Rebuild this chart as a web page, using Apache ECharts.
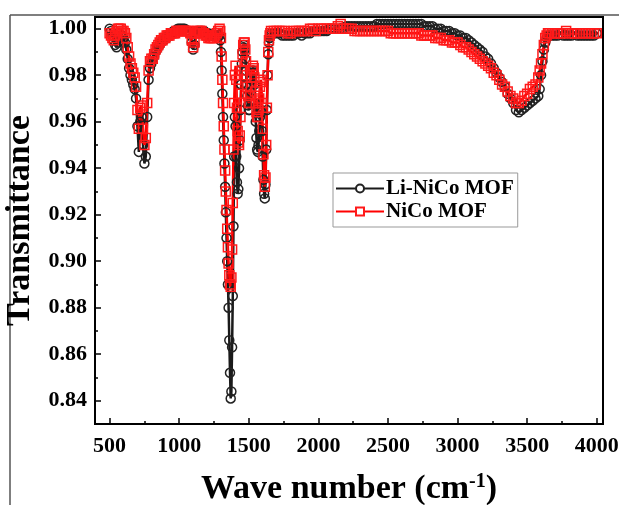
<!DOCTYPE html>
<html>
<head>
<meta charset="utf-8">
<title>FTIR Li-NiCo MOF / NiCo MOF</title>
<script src="https://cdn.jsdelivr.net/npm/echarts@6.0.0/dist/echarts.min.js"></script>
<style>
    html, body { margin: 0; padding: 0; background: #fff; }
    #chart { width: 619px; height: 505px; }
</style>
</head>
<body>
<div id="chart"></div>
<script>
/* 波数 (cm-1) */
var waveNumber = [
    500, 510, 520, 530, 540, 550, 560, 570, 580, 590,
    600, 610, 620, 630, 640, 650, 660, 670, 680, 690,
    700, 710, 720, 730, 740, 750, 760, 770, 780, 790,
    800, 810, 820, 830, 840, 850, 860, 870, 880, 890,
    900, 910, 920, 930, 940, 950, 960, 970, 980, 990,
    1000, 1010, 1020, 1030, 1040, 1050, 1060, 1070, 1080, 1090,
    1100, 1110, 1120, 1130, 1140, 1150, 1160, 1170, 1180, 1190,
    1200, 1210, 1220, 1230, 1240, 1250, 1260, 1270, 1280,
    1290, 1295, 1300, 1305, 1310, 1315, 1320, 1325, 1330, 1335,
    1340, 1345, 1350, 1355, 1360, 1365, 1370, 1375, 1380, 1385,
    1390, 1395, 1400, 1405, 1410, 1415, 1420, 1425, 1430, 1435,
    1440, 1445, 1450, 1455, 1460, 1465, 1470, 1475, 1480, 1485,
    1490, 1495, 1500, 1505, 1510, 1515, 1520, 1525, 1530, 1535,
    1540, 1545, 1550, 1555, 1560, 1565, 1570, 1575, 1580, 1585,
    1590, 1595, 1600, 1605, 1610, 1615, 1620, 1625, 1630, 1635,
    1640, 1645, 1650, 1655, 1660,
    1680, 1700, 1720, 1740, 1760, 1780, 1800, 1820, 1840, 1860,
    1880, 1900, 1920, 1940, 1960, 1980, 2000, 2020, 2040, 2060,
    2080, 2100, 2120, 2140, 2160, 2180, 2200, 2220, 2240, 2260,
    2280, 2300, 2320, 2340, 2360, 2380, 2400, 2420, 2440, 2460,
    2480, 2500, 2520, 2540, 2560, 2580, 2600, 2620, 2640, 2660,
    2680, 2700, 2720, 2740, 2760, 2780, 2800, 2820, 2840, 2860,
    2880, 2900, 2920, 2940, 2960, 2980, 3000, 3020, 3040, 3060,
    3080, 3100, 3120, 3140, 3160, 3180, 3200, 3220, 3240, 3260,
    3280, 3300, 3320, 3340, 3360, 3380, 3400, 3420, 3440, 3460,
    3480, 3500, 3520, 3540, 3560, 3580,
    3590, 3600, 3610, 3620, 3630, 3640, 3650, 3660,
    3680, 3700, 3720, 3740, 3760, 3780, 3800, 3820, 3840, 3860,
    3880, 3900, 3920, 3940, 3960, 3980, 4000
];

/* Li-NiCo MOF 透过率 */
var liNiCo = [
    1.000, 0.999, 0.997, 0.995, 0.993, 0.992, 0.994, 0.996, 0.997, 0.997,
    0.996, 0.994, 0.991, 0.987, 0.983, 0.980, 0.978, 0.976, 0.974, 0.970,
    0.958, 0.947, 0.960, 0.962, 0.950, 0.942, 0.945, 0.962, 0.978, 0.983,
    0.985, 0.987, 0.988, 0.990, 0.991, 0.992, 0.993, 0.994, 0.995, 0.995,
    0.996, 0.996, 0.997, 0.997, 0.998, 0.998, 0.999, 0.999, 0.999, 1.000,
    1.000, 1.000, 1.000, 1.000, 1.000, 0.999, 0.999, 0.999, 0.998, 0.994,
    0.991, 0.993, 0.998, 0.999, 0.999, 0.999, 0.999, 0.999, 0.999, 0.998,
    0.998, 0.998, 0.997, 0.997, 0.997, 0.997, 0.997, 0.997, 0.997,
    0.997, 0.995, 0.990, 0.982, 0.972, 0.962, 0.952, 0.942, 0.932, 0.921,
    0.910, 0.900, 0.890, 0.880, 0.866, 0.852, 0.841, 0.844, 0.863, 0.885,
    0.915, 0.945, 0.962, 0.958, 0.945, 0.934, 0.929, 0.931, 0.940, 0.952,
    0.965, 0.976, 0.985, 0.990, 0.992, 0.993, 0.991, 0.987, 0.982, 0.976,
    0.971, 0.967, 0.965, 0.965, 0.968, 0.973, 0.978, 0.981, 0.982, 0.981,
    0.976, 0.968, 0.960, 0.953, 0.948, 0.947, 0.950, 0.956, 0.962, 0.965,
    0.964, 0.956, 0.945, 0.935, 0.929, 0.927, 0.933, 0.948, 0.965, 0.980,
    0.989, 0.994, 0.996, 0.997, 0.998,
    0.998, 0.998, 0.998, 0.997, 0.997, 0.997, 0.997, 0.997, 0.998, 0.998,
    0.997, 0.998, 0.998, 0.998, 0.999, 0.999, 0.999, 0.999, 0.999, 0.999,
    1.000, 1.000, 1.000, 1.000, 1.000, 1.000, 1.001, 1.001, 1.001, 1.001,
    1.001, 1.001, 1.001, 1.001, 1.001, 1.001, 1.001, 1.002, 1.002, 1.002,
    1.002, 1.002, 1.002, 1.002, 1.002, 1.002, 1.002, 1.002, 1.002, 1.002,
    1.002, 1.002, 1.002, 1.002, 1.001, 1.001, 1.001, 1.001, 1.000, 1.000,
    1.000, 0.999, 0.999, 0.999, 0.998, 0.998, 0.997, 0.997, 0.996, 0.996,
    0.995, 0.994, 0.993, 0.992, 0.991, 0.990, 0.988, 0.987, 0.985, 0.983,
    0.981, 0.979, 0.977, 0.975, 0.972, 0.970, 0.968, 0.965, 0.964, 0.965,
    0.966, 0.967, 0.968, 0.969, 0.970, 0.971,
    0.974, 0.980, 0.986, 0.991, 0.994, 0.996, 0.997, 0.997,
    0.997, 0.997, 0.997, 0.998, 0.997, 0.997, 0.997, 0.997, 0.998, 0.997,
    0.997, 0.997, 0.997, 0.997, 0.997, 0.997, 0.998
];

/* NiCo MOF 透过率 */
var niCo = [
    0.998, 0.997, 0.996, 0.995, 0.997, 0.999, 1.000, 1.000, 1.000, 0.999,
    0.999, 0.998, 0.996, 0.992, 0.988, 0.985, 0.983, 0.981, 0.979, 0.975,
    0.965, 0.957, 0.966, 0.967, 0.957, 0.950, 0.953, 0.968, 0.982, 0.986,
    0.987, 0.987, 0.989, 0.991, 0.992, 0.993, 0.994, 0.995, 0.995, 0.996,
    0.996, 0.997, 0.997, 0.997, 0.998, 0.998, 0.998, 0.998, 0.999, 0.999,
    0.999, 0.999, 0.999, 0.999, 0.999, 0.999, 0.999, 0.999, 0.998, 0.995,
    0.992, 0.994, 0.998, 0.999, 0.999, 0.999, 0.999, 0.998, 0.998, 0.997,
    0.997, 0.996, 0.996, 0.996, 0.996, 0.996, 0.997, 0.998, 0.999,
    1.000, 0.999, 0.996, 0.988, 0.978, 0.968, 0.958, 0.948, 0.939, 0.930,
    0.922, 0.914, 0.906, 0.899, 0.894, 0.890, 0.889, 0.893, 0.905, 0.925,
    0.948, 0.968, 0.980, 0.984, 0.978, 0.966, 0.956, 0.951, 0.950, 0.954,
    0.962, 0.972, 0.982, 0.989, 0.993, 0.994, 0.994, 0.991, 0.986, 0.980,
    0.975, 0.971, 0.968, 0.968, 0.971, 0.975, 0.979, 0.982, 0.984, 0.983,
    0.979, 0.973, 0.968, 0.964, 0.962, 0.962, 0.965, 0.970, 0.975, 0.978,
    0.977, 0.968, 0.957, 0.946, 0.937, 0.932, 0.936, 0.950, 0.966, 0.980,
    0.990, 0.995, 0.997, 0.998, 0.999,
    0.999, 0.999, 0.999, 0.999, 0.999, 0.998, 0.998, 0.999, 0.999, 0.999,
    0.999, 0.999, 0.999, 1.000, 1.000, 0.999, 1.000, 1.000, 1.000, 1.000,
    1.000, 1.000, 1.000, 1.001, 1.002, 1.000, 1.000, 1.000, 1.000, 0.999,
    0.999, 0.999, 0.999, 0.999, 0.999, 0.999, 0.999, 0.999, 0.999, 0.999,
    0.999, 0.999, 0.998, 0.998, 0.998, 0.998, 0.998, 0.998, 0.998, 0.998,
    0.998, 0.998, 0.998, 0.997, 0.997, 0.997, 0.997, 0.997, 0.996, 0.996,
    0.996, 0.995, 0.995, 0.995, 0.994, 0.994, 0.994, 0.993, 0.992, 0.992,
    0.991, 0.990, 0.989, 0.988, 0.987, 0.986, 0.985, 0.984, 0.983, 0.981,
    0.980, 0.978, 0.976, 0.975, 0.973, 0.971, 0.970, 0.968, 0.968, 0.969,
    0.971, 0.972, 0.974, 0.975, 0.976, 0.979,
    0.982, 0.985, 0.989, 0.993, 0.996, 0.997, 0.998, 0.998,
    0.998, 0.998, 0.998, 0.998, 0.998, 0.999, 0.998, 0.998, 0.998, 0.998,
    0.998, 0.998, 0.998, 0.998, 0.998, 0.998, 0.998
];

/* 刻度 */
var xTicks = [500, 1000, 1500, 2000, 2500, 3000, 3500, 4000];
var xMinorTicks = [750, 1250, 1750, 2250, 2750, 3250, 3750];
var yTicks = [0.84, 0.86, 0.88, 0.90, 0.92, 0.94, 0.96, 0.98, 1.00];
var yMinorTicks = [0.85, 0.87, 0.89, 0.91, 0.93, 0.95, 0.97, 0.99];

var serif = "'Liberation Serif', 'Times New Roman', serif";

function pairs(ys) {
    return waveNumber.map(function (w, i) { return [w, ys[i]]; });
}

var chart = echarts.init(document.getElementById('chart'), null, { renderer: 'canvas' });

var option = {
    animation: false,
    backgroundColor: '#fff',
    grid: {
        left: 95, right: 16, top: 17, bottom: 81,
        outerBoundsMode: 'none',
        show: true,
        borderColor: '#000',
        borderWidth: 2,
        backgroundColor: 'transparent'
    },
    legend: {
        orient: 'vertical',
        left: 333,
        top: 173,
        backgroundColor: '#fff',
        borderColor: '#999',
        borderWidth: 1,
        borderRadius: 0,
        padding: [5, 4, 5, 2],
        itemGap: 2,
        itemWidth: 48,
        itemHeight: 10,
        textStyle: {
            fontFamily: serif,
            fontWeight: 'bold',
            fontSize: 21,
            color: '#000',
            padding: [0, 0, 0, -3]
        },
        data: [
            { name: 'Li-NiCo MOF', itemStyle: { color: '#fff' } },
            { name: 'NiCo MOF', itemStyle: { color: '#fff' } }
        ]
    },
    xAxis: [{
        type: 'value',
        min: 395,
        max: 4045,
        name: 'Wave number (cm{sup|-1})',
        nameLocation: 'middle',
        nameGap: 48,
        nameTextStyle: {
            fontFamily: serif,
            fontWeight: 'bold',
            fontSize: 34,
            color: '#000',
            rich: {
                sup: {
                    fontFamily: serif,
                    fontWeight: 'bold',
                    fontSize: 20,
                    color: '#000',
                    verticalAlign: 'top'
                }
            }
        },
        axisLine: { lineStyle: { color: '#000', width: 2 } },
        axisTick: {
            inside: true,
            length: 6,
            customValues: xTicks,
            lineStyle: { color: '#000', width: 1.5 }
        },
        axisLabel: {
            customValues: xTicks,
            margin: 11,
            fontFamily: serif,
            fontWeight: 'bold',
            fontSize: 22,
            color: '#000',
            formatter: function (v) { return String(v); }
        },
        splitLine: { show: false }
    }, {
        type: 'value',
        min: 395,
        max: 4045,
        position: 'bottom',
        axisLine: { show: false },
        axisLabel: { show: false },
        axisTick: {
            inside: true,
            length: 3,
            customValues: xMinorTicks,
            lineStyle: { color: '#000', width: 1.5 }
        },
        splitLine: { show: false }
    }],
    yAxis: [{
        type: 'value',
        min: 0.83,
        max: 1.005,
        name: 'Transmittance',
        nameLocation: 'middle',
        nameGap: 49,
        nameTextStyle: {
            fontFamily: serif,
            fontWeight: 'bold',
            fontSize: 34,
            color: '#000'
        },
        axisLine: { lineStyle: { color: '#000', width: 2 } },
        axisTick: {
            inside: true,
            length: 6,
            customValues: yTicks,
            lineStyle: { color: '#000', width: 1.5 }
        },
        axisLabel: {
            customValues: yTicks,
            margin: 8,
            fontFamily: serif,
            fontWeight: 'bold',
            fontSize: 22,
            color: '#000',
            formatter: function (v) { return v.toFixed(2); }
        },
        splitLine: { show: false }
    }, {
        type: 'value',
        min: 0.83,
        max: 1.005,
        position: 'left',
        axisLine: { show: false },
        axisLabel: { show: false },
        axisTick: {
            inside: true,
            length: 3,
            customValues: yMinorTicks,
            lineStyle: { color: '#000', width: 1.5 }
        },
        splitLine: { show: false }
    }],
    series: [{
        name: 'Li-NiCo MOF',
        type: 'line',
        xAxisIndex: 0,
        yAxisIndex: 0,
        data: pairs(liNiCo),
        symbol: 'circle',
        symbolSize: 9,
        showAllSymbol: true,
        color: '#1a1a1a',
        lineStyle: { color: '#1a1a1a', width: 2.5 },
        itemStyle: { color: 'rgba(255,255,255,0)', borderColor: '#222', borderWidth: 1.5 },
        emphasis: { disabled: true }
    }, {
        name: 'NiCo MOF',
        type: 'line',
        xAxisIndex: 0,
        yAxisIndex: 0,
        data: pairs(niCo),
        symbol: 'rect',
        symbolSize: 9,
        showAllSymbol: true,
        color: '#ff0000',
        lineStyle: { color: '#ff0000', width: 2.5 },
        itemStyle: { color: 'rgba(255,255,255,0)', borderColor: '#ff1a1a', borderWidth: 1.5 },
        emphasis: { disabled: true }
    }],
    graphic: [{
        type: 'line',
        silent: true,
        shape: { x1: 10, y1: 15, x2: 619, y2: 15 },
        style: { stroke: '#555', lineWidth: 1.5 }
    }, {
        type: 'line',
        silent: true,
        shape: { x1: 10, y1: 15, x2: 10, y2: 505 },
        style: { stroke: '#555', lineWidth: 1.5 }
    }]
};

chart.setOption(option);
</script>
</body>
</html>
